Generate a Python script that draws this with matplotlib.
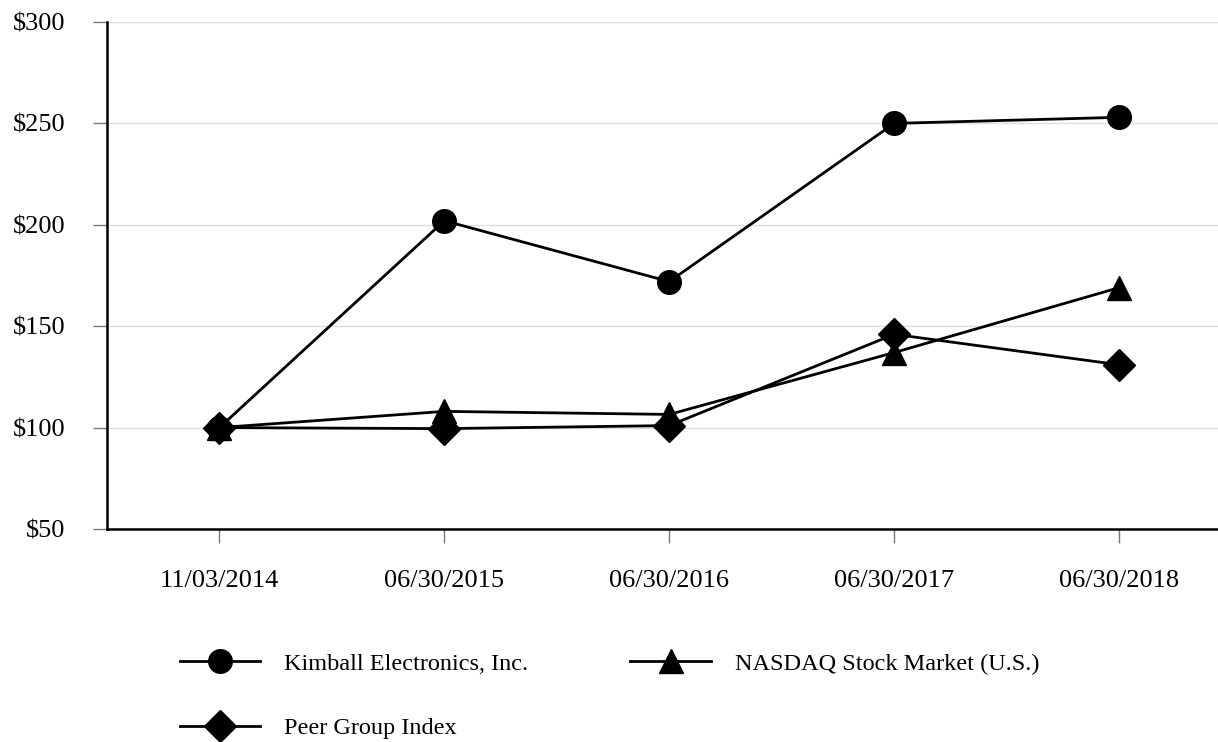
import matplotlib
matplotlib.use("Agg")
import matplotlib.pyplot as plt
from matplotlib.ticker import FuncFormatter

dates = ["11/03/2014", "06/30/2015", "06/30/2016", "06/30/2017", "06/30/2018"]
kimball = [100, 202, 172, 250, 253]
nasdaq = [100, 108, 106.5, 137, 169]
peer = [100, 99.5, 101, 146, 131]
yticks = [50, 100, 150, 200, 250, 300]

plt.rcParams['font.family'] = ['Liberation Serif', 'DejaVu Serif']

fig = plt.figure(figsize=(12.18, 7.42), dpi=100)
ax = fig.add_axes([107/1218, 1-529/742, 1-107/1218, (529-22)/742])

x = list(range(len(dates)))
hk, = ax.plot(x, kimball, color='black', lw=2.0, marker='o', ms=17, label='Kimball Electronics, Inc.', zorder=3)
hn, = ax.plot(x, nasdaq, color='black', lw=2.0, marker='^', ms=17, label='NASDAQ Stock Market (U.S.)', zorder=3)
hp, = ax.plot(x, peer, color='black', lw=2.0, marker='D', ms=16, label='Peer Group Index', zorder=3)

ax.set_xlim(-0.5, (1218-219)/225)
ax.set_ylim(50, 300)
ax.set_xticks(x)
ax.set_xticklabels(dates)
ax.set_yticks(yticks)
ax.yaxis.set_major_formatter(FuncFormatter(lambda v, p: f"${v:.0f}"))
ax.grid(axis='y', color='#dddddd', lw=1)
ax.set_axisbelow(True)
for s in ['top', 'right']:
    ax.spines[s].set_visible(False)
for s in ['left', 'bottom']:
    ax.spines[s].set_linewidth(1.8)
    ax.spines[s].set_color('black')
ax.tick_params(axis='both', length=10, width=1, color='#777777', labelsize=19)
ax.tick_params(axis='y', pad=20)
ax.tick_params(axis='x', pad=19.5)

fig.legend([hk, hp, hn], [hk.get_label(), hp.get_label(), hn.get_label()],
           loc='upper left', bbox_to_anchor=(170/1218, 1-643/742), ncol=2, frameon=False,
           fontsize=17.5, handlelength=3.3, handletextpad=1.0, columnspacing=4.2,
           labelspacing=1.75, borderaxespad=0)

fig.savefig("out.png", dpi=100)
